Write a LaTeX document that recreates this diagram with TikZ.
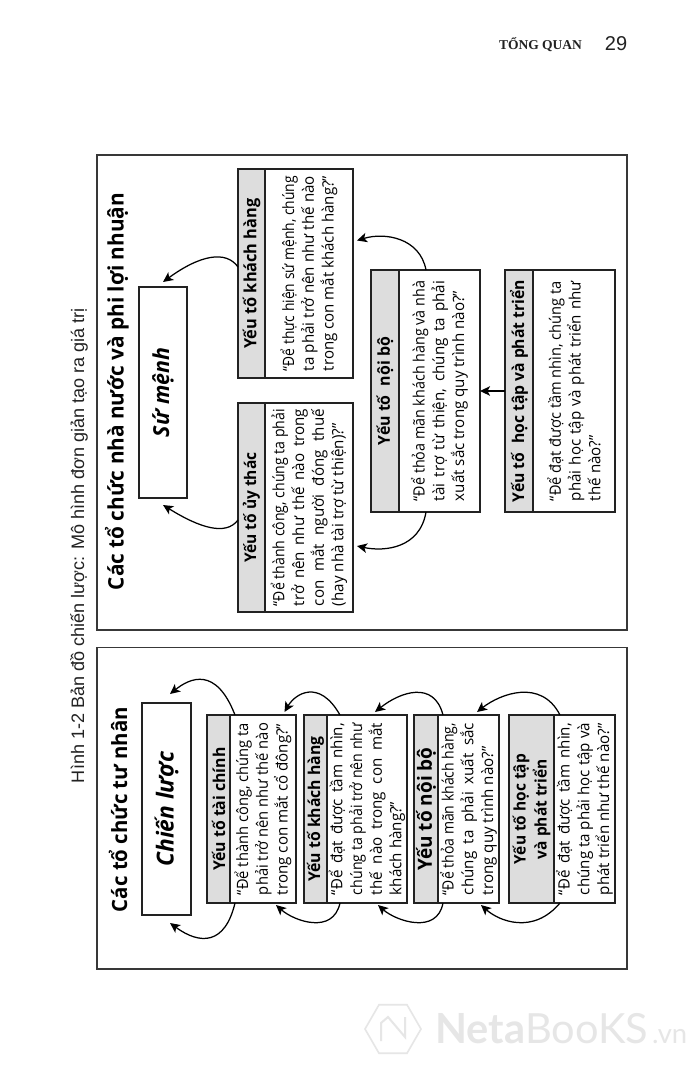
\documentclass[tikz,border=0pt]{standalone}
\usepackage{graphicx}
\usepackage{fontspec}
\usetikzlibrary{shapes.geometric,arrows.meta}
\setmainfont{Open Sans}[FakeStretch=0.97]
\newfontfamily\capfont{Liberation Sans}
\newfontfamily\headfont{Liberation Serif}
\newfontfamily\markfont{Lato}
\definecolor{ink}{HTML}{222222}
\definecolor{band}{HTML}{DDDDDD}
\definecolor{wmark}{HTML}{E6E6E6}
\newsavebox{\linebx}
\newcommand{\jl}[2]{\sbox{\linebx}{#2}\ifdim\wd\linebx>#1\relax\resizebox{#1}{\height}{\usebox{\linebx}}\else\makebox[#1][s]{#2}\fi}
\newcommand{\lastl}[2]{\sbox{\linebx}{#2}\ifdim\wd\linebx>#1\relax\resizebox{#1}{\height}{\usebox{\linebx}}\else\makebox[#1][l]{#2}\fi}
\newcommand{\fitw}[2]{\resizebox{#1}{!}{#2}}
\tikzset{
  x=1pt,y=-1pt,
  frameb/.style={draw=ink!90,line width=1.5pt,fill=white},
  rotbox/.style={draw=ink,line width=1.5pt,rotate=90,inner sep=0pt,outer sep=0pt,align=center},
  headb/.style={rotbox,fill=band,font=\fontsize{17}{21}\selectfont\bfseries},
  bodyb/.style={rotbox,fill=white,font=\fontsize{15.6}{19.7}\selectfont},
  goalb/.style={rotbox,fill=white,font=\fontsize{25}{30}\selectfont\bfseries\itshape},
  titleb/.style={rotate=90,inner sep=0pt,font=\fontsize{23}{26}\selectfont\bfseries},
  arr/.style={draw=black,line width=1.25pt,-{Stealth[length=10pt,width=9.5pt,inset=2.5pt]}}
}
% name x0 xm x1 y0 y1 title body
\newcommand{\pairbox}[8]{%
  \pgfmathsetlengthmacro{\hh}{(#6)-(#5)}%
  \pgfmathsetlengthmacro{\wa}{(#3)-(#2)}%
  \pgfmathsetlengthmacro{\wb}{(#4)-(#3)}%
  \pgfmathsetmacro{\cy}{((#5)+(#6))/2}%
  \pgfmathsetmacro{\cxa}{((#2)+(#3))/2}%
  \pgfmathsetmacro{\cxb}{((#3)+(#4))/2}%
  \node[headb,minimum width=\hh,minimum height=\wa] (#1h) at (\cxa,\cy) {#7};
  \node[bodyb,minimum width=\hh,minimum height=\wb] (#1b) at (\cxb,\cy) {#8};
}
\begin{document}
\begin{tikzpicture}
\useasboundingbox (0,0) rectangle (700,1073);
\fill[white] (0,0) rectangle (700,1073);
% running head
\node[inner sep=0pt,font=\fontsize{13.6}{16}\headfont\bfseries,text=ink] (rh) at (540.5,45) {\fitw{83pt}{TỔNG QUAN}};
\node[inner sep=0pt,font=\fontsize{20}{24}\capfont,text=ink] (pg) at (616,44) {29};
% caption
\node[rotate=90,inner sep=0pt,font=\fontsize{18}{20}\capfont,text=ink] (cap) at (79,545.5) {\fitw{475pt}{Hình 1-2 Bản đồ chiến lược: Mô hình đơn giản tạo ra giá trị}};
% frames
\node[frameb,inner sep=0pt,minimum width=530pt,minimum height=475pt] (upper) at (362,392.5) {};
\node[frameb,inner sep=0pt,minimum width=530pt,minimum height=321.5pt] (lower) at (362,808.25) {};
% titles
\node[titleb] (tu) at (117,391.5) {\fitw{397pt}{Các tổ chức nhà nước và phi lợi nhuận}};
\node[titleb] (tl) at (118,809.5) {\fitw{205pt}{Các tổ chức tư nhân}};
% goal boxes
\node[goalb,minimum width=211pt,minimum height=48pt] (mission) at (163,392.5) {\fitw{89pt}{Sứ mệnh}};
\node[goalb,minimum width=212pt,minimum height=49pt] (strategy) at (166.5,809) {\fitw{115pt}{Chiến lược}};
% lower column
\pairbox{fin}{207}{230}{296}{715}{903}{\fitw{123pt}{Yếu tố tài chính}}{%
 \jl{172pt}{“Để thành công, chúng ta}\\\jl{172pt}{phải trở nên như thế nào}\\\lastl{172pt}{trong con mắt cổ đông?”}}
\pairbox{cus}{304}{327}{407}{715}{903}{\fitw{145pt}{Yếu tố khách hàng}}{%
 \jl{172pt}{“Để đạt được tầm nhìn,}\\\jl{172pt}{chúng ta phải trở nên như}\\\jl{172pt}{thế nào trong con mắt}\\\lastl{172pt}{khách hàng?”}}
\pairbox{int}{414}{438}{499}{715}{903}{\fitw{123pt}{Yếu tố nội bộ}}{%
 \jl{172pt}{“Để thỏa mãn khách hàng,}\\\jl{172pt}{chúng ta phải xuất sắc}\\\lastl{172pt}{trong quy trình nào?”}}
\pairbox{lrn}{509}{554}{615}{715}{903}{\fitw{110pt}{Yếu tố học tập}\\\fitw{100pt}{và phát triển}}{%
 \jl{172pt}{“Để đạt được tầm nhìn,}\\\jl{172pt}{chúng ta phải học tập và}\\\lastl{172pt}{phát triển như thế nào?”}}
% upper boxes
\pairbox{ucus}{238}{265}{353}{169}{378}{\fitw{150pt}{Yếu tố khách hàng}}{%
 \jl{195pt}{“Để thực hiện sứ mệnh, chúng}\\\jl{195pt}{ta phải trở nên như thế nào}\\\lastl{195pt}{trong con mắt khách hàng?”}}
\pairbox{utr}{238}{265}{353}{403}{612}{\fitw{110pt}{Yếu tố ủy thác}}{%
 \jl{197pt}{“Để thành công, chúng ta phải}\\\jl{197pt}{trở nên như thế nào trong}\\\jl{197pt}{con mắt người đóng thuế}\\\lastl{197pt}{(hay nhà tài trợ từ thiện)?”}}
\pairbox{uint}{371}{399}{480}{270}{512}{\fitw{108pt}{Yếu tố\hspace{.55em}nội bộ}}{%
 \jl{220pt}{“Để thỏa mãn khách hàng và nhà}\\\jl{220pt}{tài trợ từ thiện, chúng ta phải}\\\lastl{220pt}{xuất sắc trong quy trình nào?”}}
\pairbox{ulrn}{505}{533}{615}{270}{512}{\fitw{222pt}{Yếu tố\hspace{.55em}học tập và phát triển}}{%
 \jl{220pt}{“Để đạt được tầm nhìn, chúng ta}\\\jl{220pt}{phải học tập và phát triển như}\\\lastl{220pt}{thế nào?”}}
% lower connectors (rotated body: east = page top, west = page bottom)
\draw[arr] ([shift={(-28,0)}]finb.east) .. controls (216,666) and (190,678) .. ([shift={(3.5,-9)}]strategy.east);
\draw[arr] ([shift={(-28,0)}]finb.west) .. controls (225,945) and (200,945) .. ([shift={(3.5,8)}]strategy.west);
\draw[arr] ([shift={(-27,0)}]cusb.east) .. controls (319,678) and (295,694) .. ([shift={(21.5,-3)}]finb.east);
\draw[arr] ([shift={(-27,0)}]cusb.west) .. controls (333,935) and (294,921) .. ([shift={(13,2)}]finb.west);
\draw[arr] ([shift={(-25.5,0)}]intb.east) .. controls (434,680) and (400,692) .. ([shift={(8,-3)}]cusb.east);
\draw[arr] ([shift={(-25.5,0)}]intb.west) .. controls (437,935) and (396,921) .. ([shift={(11,2)}]cusb.west);
\draw[arr] ([shift={(-24.5,0)}]lrnb.east) .. controls (541,678) and (500,694) .. ([shift={(8.5,-3)}]intb.east);
\draw[arr] ([shift={(-24.5,0)}]lrnb.west) .. controls (533,935) and (499,921) .. ([shift={(12.5,2)}]intb.west);
% upper connectors (head/body south = page right, north = page left)
\draw[arr] ([shift={(0,-6.5)}]ucush.north) .. controls (226,250) and (200,255) .. ([shift={(0,-5)}]mission.east);
\draw[arr] ([shift={(0,12.5)}]utrh.north) .. controls (226,536) and (200,528) .. ([shift={(0,7)}]mission.west);
\draw[arr] ([shift={(-13.5,0)}]uintb.east) .. controls (420,238) and (385,232) .. ([shift={(4,-33)}]ucusb.south);
\draw[arr] ([shift={(-13.5,0)}]uintb.west) .. controls (420,548) and (385,552) .. ([shift={(4,38.5)}]utrb.south);
\draw[arr] (ulrnh.north) -- (uintb.south);
% watermark
\node[regular polygon,regular polygon sides=6,minimum size=56pt,inner sep=0pt,draw=wmark,line width=1.6pt] (hex) at (393,1029) {};
\draw[draw=wmark,line width=2pt] ([shift={(-12,12)}]hex.center) -- ([shift={(-12,-6)}]hex.center) -- ([shift={(-5,-12)}]hex.center) -- ([shift={(12,8)}]hex.center) -- ([shift={(12,-12)}]hex.center);
\node[inner sep=0pt,anchor=base west,font=\fontsize{38}{40}\markfont,text=wmark] (netab) at (435,1043) {\fitw{213pt}{{\bfseries Neta}BooKS}};
\node[inner sep=0pt,anchor=base west,font=\fontsize{19}{22}\markfont,text=wmark] (nvn) at (652,1043) {\fitw{35pt}{.vn}};
\end{tikzpicture}
\end{document}
